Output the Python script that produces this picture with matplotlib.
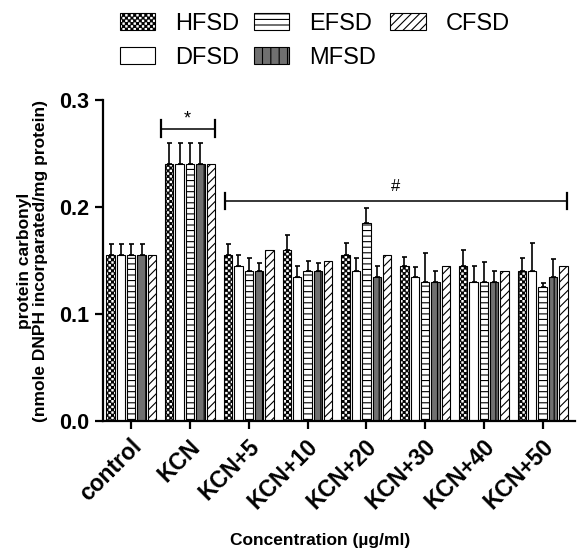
import numpy as np
import matplotlib
matplotlib.use("Agg")
import matplotlib.pyplot as plt
import matplotlib.transforms as mtransforms
from matplotlib import hatch as mhatch
from matplotlib.path import Path

# data
categories = ["control", "KCN", "KCN+5", "KCN+10", "KCN+20", "KCN+30", "KCN+40", "KCN+50"]
series = ["HFSD", "DFSD", "EFSD", "MFSD", "CFSD"]

hfsd = [0.155, 0.240, 0.155, 0.160, 0.155, 0.145, 0.145, 0.140]
dfsd = [0.155, 0.240, 0.145, 0.135, 0.140, 0.135, 0.130, 0.140]
efsd = [0.155, 0.240, 0.140, 0.140, 0.185, 0.130, 0.130, 0.125]
mfsd = [0.155, 0.240, 0.140, 0.140, 0.135, 0.130, 0.130, 0.135]
cfsd = [0.155, 0.240, 0.160, 0.150, 0.155, 0.145, 0.140, 0.145]

hfsd_err = [0.010, 0.020, 0.010, 0.014, 0.011, 0.008, 0.015, 0.012]
dfsd_err = [0.010, 0.020, 0.010, 0.010, 0.012, 0.009, 0.015, 0.026]
efsd_err = [0.010, 0.020, 0.012, 0.010, 0.014, 0.027, 0.019, 0.004]
mfsd_err = [0.010, 0.020, 0.008, 0.008, 0.010, 0.010, 0.010, 0.016]
cfsd_err = [0, 0, 0, 0, 0, 0, 0, 0]


class CheckerHatch(mhatch.HatchPatternBase):
    """Filled checkerboard, used in place of the small-circle hatch ('o')."""

    def __init__(self, hatch, density):
        self.n = hatch.count("o") * density
        self.num_vertices = (self.n * self.n // 2) * 5

    def set_vertices_and_codes(self, vertices, codes):
        n = self.n
        s = 1.0 / n
        m = 0.004  # shrink a bit, the hatch is also stroked
        k = 0
        for i in range(n):
            for j in range(n):
                if (i + j) % 2 == 0:
                    x, y = i * s + m, j * s + m
                    w = s - 2 * m
                    vertices[k:k + 5] = [(x, y), (x + w, y), (x + w, y + w), (x, y + w), (x, y)]
                    codes[k:k + 5] = [Path.MOVETO, Path.LINETO, Path.LINETO, Path.LINETO, Path.CLOSEPOLY]
                    k += 5


mhatch._hatch_types = [CheckerHatch if t is mhatch.SmallCircles else t for t in mhatch._hatch_types]

plt.rcParams["font.family"] = ["Liberation Sans", "DejaVu Sans"]
plt.rcParams["hatch.linewidth"] = 0.8

values = [hfsd, dfsd, efsd, mfsd, cfsd]
errors = [hfsd_err, dfsd_err, efsd_err, mfsd_err, cfsd_err]
styles = [
    dict(facecolor="white", hatch="oooooo"),
    dict(facecolor="white", hatch=None),
    dict(facecolor="white", hatch="---"),
    dict(facecolor="#707070", hatch="||"),
    dict(facecolor="white", hatch="////"),
]

fig = plt.figure(figsize=(5.77, 5.5), dpi=100)
ax = fig.add_axes([103 / 577, 1 - 421 / 550, (575 - 103) / 577, (421 - 100) / 550])

x = np.arange(len(categories))
pitch = 0.176
width = 0.142
handles = []
for k, (name, vals, errs, st) in enumerate(zip(series, values, errors, styles)):
    pos = x + (k - 2) * pitch
    b = ax.bar(pos, vals, width, edgecolor="black", linewidth=0.8, label=name, **st)
    handles.append(b)
    errs = np.array(errs)
    if errs.any():
        ax.errorbar(pos, vals, yerr=[np.zeros_like(errs), errs], fmt="none",
                    ecolor="black", elinewidth=1.2, capsize=1.8, capthick=1.2)

# significance brackets
ax.plot([0.50, 1.42], [0.273, 0.273], color="black", lw=1.1)
for xe in (0.50, 1.42):
    ax.plot([xe, xe], [0.265, 0.281], color="black", lw=1.6)
ax.text(0.96, 0.282, "*", ha="center", va="center", fontsize=13)

ax.plot([1.60, 7.42], [0.2056, 0.2056], color="black", lw=1.1)
for xe in (1.60, 7.42):
    ax.plot([xe, xe], [0.198, 0.213], color="black", lw=1.6)
ax.text(4.5, 0.219, "#", ha="center", va="center", fontsize=12)

ax.set_xlim(-0.48, 7.55)
ax.set_ylim(0, 0.3)
ax.set_yticks([0.0, 0.1, 0.2, 0.3])
ax.set_yticklabels(["0.0", "0.1", "0.2", "0.3"], fontsize=15.5, fontweight="bold")
ax.set_xticks(x)
ax.set_xticklabels(categories, fontsize=16.5, fontweight="bold", rotation=45,
                   ha="right", va="center", rotation_mode="anchor")
ax.tick_params(axis="both", direction="out", length=6, width=1.6, pad=4)
ax.tick_params(axis="x", pad=10)
shift = mtransforms.ScaledTranslation(7 / 100, 0, fig.dpi_scale_trans)
for lab in ax.get_xticklabels():
    lab.set_transform(lab.get_transform() + shift)

for side in ("top", "right"):
    ax.spines[side].set_visible(False)
for side in ("left", "bottom"):
    ax.spines[side].set_linewidth(1.6)

ax.set_ylabel("protein carbonyl\n(nmole DNPH incorparated/mg protein)",
              fontsize=12.5, fontweight="bold", labelpad=8, linespacing=1.1)
fig.text(320 / 577, 1 - 540 / 550, "Concentration (µg/ml)", ha="center", va="center",
         fontsize=12.5, fontweight="bold")

fig.legend(handles=handles, loc="upper left", bbox_to_anchor=(120 / 577, 1 - 13 / 550),
           ncol=3, frameon=False, fontsize=17, borderpad=0, borderaxespad=0,
           handlelength=1.5, handleheight=0.75, handletextpad=0.85,
           columnspacing=0.6, labelspacing=0.5)

fig.savefig("out.png", dpi=100)
